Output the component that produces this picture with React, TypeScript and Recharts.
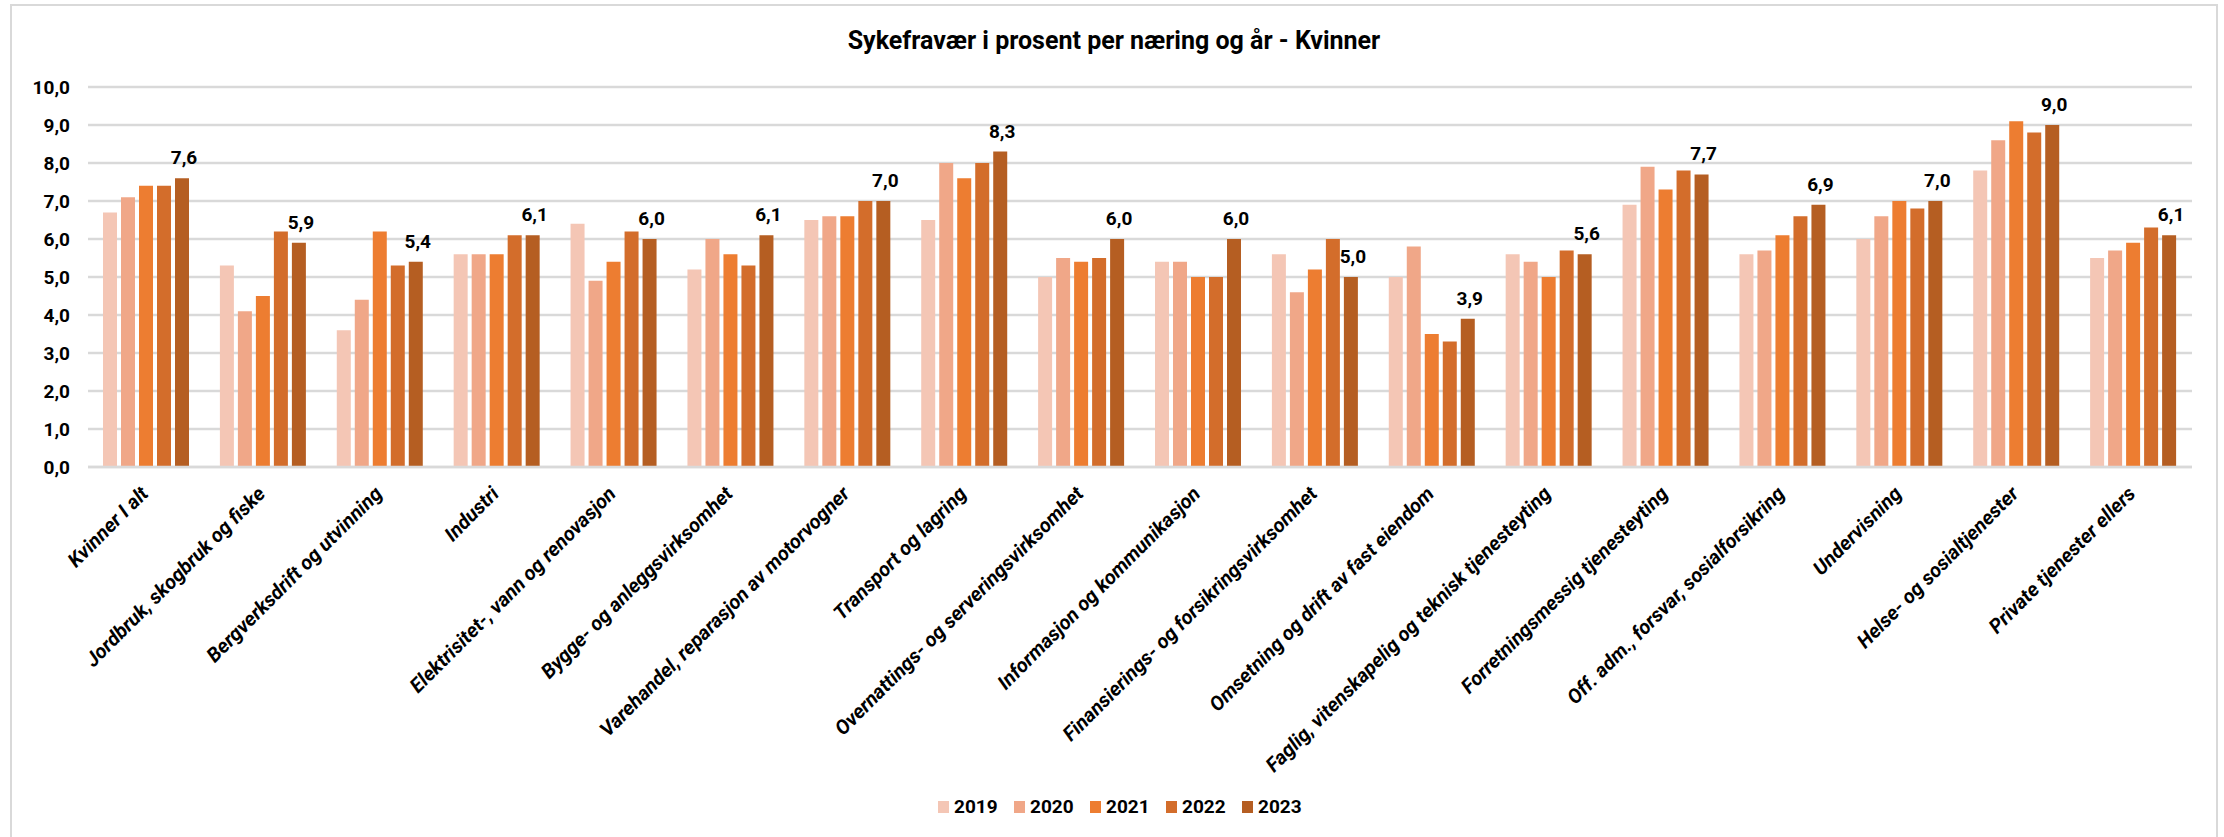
import React from 'react';
import { BarChart, Bar, XAxis, YAxis, CartesianGrid, Legend, LabelList } from 'recharts';

const categories = [
  'Kvinner I alt',
  'Jordbruk, skogbruk og fiske',
  'Bergverksdrift og utvinning',
  'Industri',
  'Elektrisitet-, vann og renovasjon',
  'Bygge- og anleggsvirksomhet',
  'Varehandel, reparasjon av motorvogner',
  'Transport og lagring',
  'Overnattings- og serveringsvirksomhet',
  'Informasjon og kommunikasjon',
  'Finansierings- og forsikringsvirksomhet',
  'Omsetning og drift av fast eiendom',
  'Faglig, vitenskapelig og teknisk tjenesteyting',
  'Forretningsmessig tjenesteyting',
  'Off. adm., forsvar, sosialforsikring',
  'Undervisning',
  'Helse- og sosialtjenester',
  'Private tjenester ellers',
];

const years = ['2019', '2020', '2021', '2022', '2023'];

const values2019 = [6.7, 5.3, 3.6, 5.6, 6.4, 5.2, 6.5, 6.5, 5.0, 5.4, 5.6, 5.0, 5.6, 6.9, 5.6, 6.0, 7.8, 5.5];
const values2020 = [7.1, 4.1, 4.4, 5.6, 4.9, 6.0, 6.6, 8.0, 5.5, 5.4, 4.6, 5.8, 5.4, 7.9, 5.7, 6.6, 8.6, 5.7];
const values2021 = [7.4, 4.5, 6.2, 5.6, 5.4, 5.6, 6.6, 7.6, 5.4, 5.0, 5.2, 3.5, 5.0, 7.3, 6.1, 7.0, 9.1, 5.9];
const values2022 = [7.4, 6.2, 5.3, 6.1, 6.2, 5.3, 7.0, 8.0, 5.5, 5.0, 6.0, 3.3, 5.7, 7.8, 6.6, 6.8, 8.8, 6.3];
const values2023 = [7.6, 5.9, 5.4, 6.1, 6.0, 6.1, 7.0, 8.3, 6.0, 6.0, 5.0, 3.9, 5.6, 7.7, 6.9, 7.0, 9.0, 6.1];

const yTicks = [0, 1, 2, 3, 4, 5, 6, 7, 8, 9, 10];

const colors = ['#F4C6B5', '#F0A788', '#ED7D31', '#D36D2B', '#B55E22'];

const seriesValues = [values2019, values2020, values2021, values2022, values2023];

const data = categories.map((name, i) => {
  const row: Record<string, string | number> = { name };
  years.forEach((y, k) => {
    row[y] = seriesValues[k][i];
  });
  return row;
});

const FONT = 'Roboto, "Noto Sans", sans-serif';

const fmt = (v: number) => v.toFixed(1).replace('.', ',');

const XTick = (props: any) => {
  const { x, y, payload } = props;
  return (
    <g transform={`translate(${x + 3},${y + 28}) rotate(-45)`}>
      <text
        x={0}
        y={0}
        textAnchor="end"
        fontFamily={FONT}
        fontSize={20}
        fontWeight={700}
        fontStyle="italic"
        fill="#000"
      >
        {payload.value}
      </text>
    </g>
  );
};

const LegendContent = () => (
  <div
    style={{
      display: 'flex',
      justifyContent: 'flex-start',
      alignItems: 'center',
      height: 30,
      paddingLeft: 938,
      fontFamily: FONT,
      fontSize: 19,
      fontWeight: 700,
      color: '#000',
    }}
  >
    {years.map((y, k) => (
      <div key={y} style={{ display: 'flex', alignItems: 'center', width: 76 }}>
        <span style={{ display: 'inline-block', width: 11, height: 12, background: colors[k], marginRight: 5 }} />
        <span style={{ lineHeight: '20px' }}>{y}</span>
      </div>
    ))}
  </div>
);

export default function App() {
  return (
    <div style={{ position: 'absolute', left: 0, top: 0, width: 2224, height: 837, background: '#fff', overflow: 'hidden' }}>
      <div
        style={{
          position: 'absolute',
          left: 10,
          top: 4,
          width: 2208,
          height: 833,
          border: '2px solid #D9D9D9',
          borderBottom: 'none',
          boxSizing: 'border-box',
        }}
      />
      <div
        style={{
          position: 'absolute',
          left: 0,
          top: 28,
          width: 2228,
          textAlign: 'center',
          fontFamily: FONT,
          fontSize: 25,
          fontWeight: 700,
          lineHeight: '25px',
          color: '#000',
        }}
      >
        Sykefravær i prosent per næring og år - Kvinner
      </div>
      <div style={{ position: 'absolute', left: 0, top: 0 }}>
        <BarChart
          width={2224}
          height={837}
          data={data}
          margin={{ top: 87, right: 32, left: 0, bottom: 0 }}
          barSize={14}
          barGap={4}
        >
          <CartesianGrid vertical={false} stroke="#D9D9D9" strokeWidth={2.5} />
          <YAxis
            domain={[0, 10]}
            ticks={yTicks}
            tickFormatter={fmt}
            axisLine={false}
            tickLine={false}
            tickSize={0}
            tickMargin={18}
            width={88}
            interval={0}
            tick={{ fontSize: 19, fontWeight: 700, fill: '#000', fontFamily: FONT }}
          />
          <XAxis
            dataKey="name"
            interval={0}
            tickLine={false}
            tickSize={0}
            tickMargin={0}
            axisLine={{ stroke: '#D9D9D9', strokeWidth: 2.5 }}
            height={340}
            tick={<XTick />}
          />
          <Legend
            verticalAlign="bottom"
            height={30}
            content={<LegendContent />}
            wrapperStyle={{ left: 0, width: 2224, top: 792, bottom: 'auto' }}
          />
          {years.map((y, k) => (
            <Bar key={y} dataKey={y} fill={colors[k]} isAnimationActive={false}>
              {k === years.length - 1 ? (
                <LabelList
                  dataKey={y}
                  position="top"
                  offset={14}
                  formatter={(v: any) => fmt(Number(v))}
                  style={{ fontSize: 19, fontWeight: 700, fill: '#000', fontFamily: FONT }}
                  dx={2}
                />
              ) : null}
            </Bar>
          ))}
        </BarChart>
      </div>
    </div>
  );
}
